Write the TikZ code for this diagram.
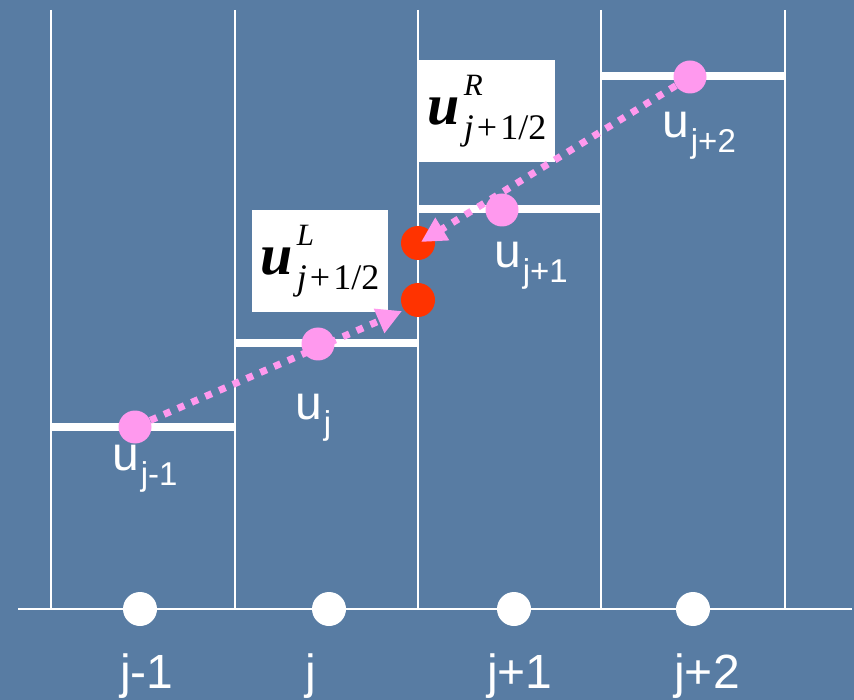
\documentclass[tikz,border=0pt]{standalone}
\usepackage{fontspec}
\setmainfont{Liberation Sans}
\newfontfamily\serifmath{Liberation Serif}
\usetikzlibrary{arrows.meta}
\definecolor{bgblue}{RGB}{88,124,163}
\definecolor{pinkdot}{RGB}{255,153,238}
\definecolor{reddot}{RGB}{255,51,0}
\tikzset{
  cellline/.style={white, line width=2pt},
  avgline/.style={white, line width=8pt},
  griddot/.style={circle, fill=white, minimum size=34pt, inner sep=0pt},
  valdot/.style={circle, fill=pinkdot, minimum size=33pt, inner sep=0pt},
  facedot/.style={circle, fill=reddot, minimum size=34pt, inner sep=0pt},
  recon/.style={pinkdot, line width=7pt, dash pattern=on 7pt off 8pt,
    -{Triangle[length=25pt,width=25pt]}},
  mathbox/.style={fill=white, minimum width=136pt, minimum height=102pt, inner sep=0pt},
  axislabel/.style={anchor=base, text=white, inner sep=0pt, font=\fontsize{48}{48}\selectfont},
  ulabel/.style={anchor=base west, text=white, inner sep=0pt, font=\fontsize{48}{48}\selectfont},
}
\newcommand{\usub}[1]{u\kern2pt\raisebox{-15pt}{\fontsize{33}{33}\selectfont #1}}
\newcommand{\uface}[1]{{\serifmath\fontsize{58}{58}\selectfont\bfseries\itshape u}\kern4pt\rlap{\raisebox{29pt}{\serifmath\fontsize{31}{31}\selectfont\itshape #1}}\raisebox{-15pt}{\serifmath\fontsize{36}{36}\selectfont\itshape j\upshape\kern3pt+\kern3pt1/2}}
\begin{document}
\begin{tikzpicture}[x=1pt,y=-1pt]
\fill[bgblue] (0,0) rectangle (854,700);
\useasboundingbox (0,0) rectangle (854,700);
% cell boundaries
\foreach \xx in {51,235,418,601,785} \draw[cellline] (\xx,10) -- (\xx,609);
\draw[cellline] (18,609) -- (852,609);
% cell averages
\draw[avgline] (51,427) -- (235,427);
\draw[avgline] (235,343) -- (418,343);
\draw[avgline] (418,209) -- (601,209);
\draw[avgline] (601,76) -- (785,76);
% grid points
\node[griddot] (g1) at (140,609) {};
\node[griddot] (g2) at (329,609) {};
\node[griddot] (g3) at (514,609) {};
\node[griddot] (g4) at (693,609) {};
\node[axislabel] (l1) at (147,688) {j-1};
\node[axislabel] (l2) at (311,688) {j};
\node[axislabel] (l3) at (520,688) {j+1};
\node[axislabel] (l4) at (707,688) {j+2};
% boxes
\node[mathbox] (bL) at (320,261) {\uface{L}};
\node[mathbox] (bR) at (487,111) {\uface{R}};
% interface values
\node[facedot] (fR) at (418,243) {};
\node[facedot] (fL) at (418,300) {};
% cell values
\node[valdot] (pm1) at (135,427) {};
\node[valdot] (p0) at (318,344) {};
\node[valdot] (p1) at (502,210) {};
\node[valdot] (p2) at (690,77) {};
\coordinate (tipL) at (402,311);
\coordinate (tipR) at (421,242);
\draw[recon] (pm1) -- (tipL);
\draw[recon] (p2) -- (tipR);
% value labels
\node[ulabel] (um1) at (112,470) {\usub{j-1}};
\node[ulabel] (u0) at (295,420) {\usub{j}};
\node[ulabel] (u1) at (494,268) {\usub{j+1}};
\node[ulabel] (u2) at (662,138) {\usub{j+2}};
\end{tikzpicture}
\end{document}
